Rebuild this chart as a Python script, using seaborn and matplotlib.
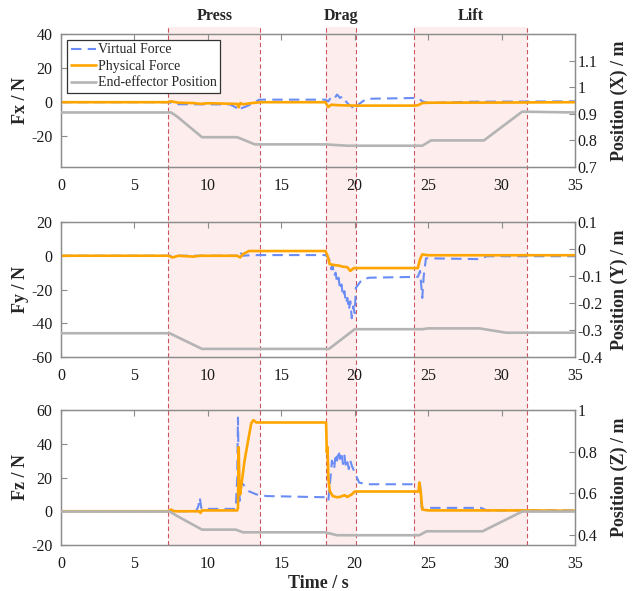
import numpy as np
import pandas as pd
import matplotlib
matplotlib.use("Agg")
import matplotlib.pyplot as plt
import matplotlib.transforms as mtransforms
from matplotlib.patches import Rectangle
from matplotlib.lines import Line2D
import seaborn as sns

# ---------------- data ----------------
phases = ["Press", "Drag", "Lift"]
phase_start = [7.32, 18.02, 24.04]
phase_end = [13.57, 20.1, 31.7]

# Fx panel
t_fx_virtual = [0, 7.3, 7.6, 8.0, 11.5, 11.9, 12.1, 12.3, 12.6, 13.0, 13.5, 18.0, 18.2, 18.4, 18.6, 18.8,
                19.0, 19.2, 19.4, 19.6, 19.8, 20.0, 20.3, 20.8, 24.3, 24.6, 25.0, 28.0, 35]
fx_virtual = [0, 0, -0.5, -1.2, -1.3, -3, -5, -3.5, -2.5, -1, 1.5, 1.5, 0.5, 3, 2, 4.5,
              2.5, 3.5, 0.5, -1.5, -2.5, -4.5, -1, 2, 2.5, 0.5, -0.5, 0.3, 0.5]
t_fx_physical = [0, 7.3, 7.5, 8.0, 9.0, 9.5, 10.0, 11.0, 12.0, 12.1, 12.2, 12.4, 13.0, 13.6, 18.0, 18.2,
                 18.4, 19.0, 20.0, 21.0, 24.0, 24.3, 24.6, 25.0, 30.0, 35]
fx_physical = [0, 0, 0.5, -0.3, -0.5, -1, -0.6, -0.8, -1, -3, -0.5, -1.2, -0.5, 0, 0, -2.8,
               -1.5, -1.8, -2, -2, -2, -1.8, -0.5, -0.3, -0.2, 0]
t_x_pos = [0, 7.5, 7.9, 9.6, 12.0, 13.2, 18.0, 19.5, 24.6, 25.2, 28.8, 31.4, 35]
x_pos = [0.905, 0.905, 0.89, 0.812, 0.812, 0.785, 0.785, 0.78, 0.78, 0.80, 0.80, 0.908, 0.905]

# Fy panel
t_fy_virtual = [0, 12.0, 12.05, 12.2, 12.4, 13.0, 18.0, 18.2, 18.3, 18.4, 18.5, 18.6, 18.7, 18.8, 18.9,
                19.0, 19.1, 19.2, 19.3, 19.4, 19.5, 19.6, 19.7, 19.8, 19.9, 20.0, 20.08, 20.5, 21.0,
                24.3, 24.45, 24.6, 24.7, 24.85, 28.5, 29.0, 35]
fy_virtual = [0, 0, 2.5, 2.0, 0, 0.4, 0.4, -1, -3, -8, -6, -12, -10, -16, -13,
              -20, -17, -24, -21, -28, -25, -32, -27, -37, -30, -34, -19, -14, -13,
              -12.5, -9, -25, -12, -1.5, -2, -0.3, -0.3]
t_fy_physical = [0, 7.3, 7.6, 8.0, 9.0, 9.5, 12.0, 12.2, 12.4, 12.8, 18.0, 18.15, 18.3, 18.6, 18.9,
                 19.2, 19.5, 19.7, 19.9, 20.0, 24.3, 24.45, 24.6, 25.0, 35]
fy_physical = [0, 0, -1, 0, -0.5, 0, 0, -1, 1, 2.8, 2.8, 0, -5, -5.5, -5.8,
               -6.5, -6.8, -9, -7.5, -7.3, -7.3, -2, 0.8, 0.3, 0.3]
t_y_pos = [0, 7.4, 9.6, 18.25, 20.0, 24.6, 25.0, 28.5, 30.3, 35]
y_pos = [-0.312, -0.312, -0.37, -0.37, -0.297, -0.297, -0.294, -0.294, -0.31, -0.31]

# Fz panel
t_fz_virtual = [0, 9.2, 9.35, 9.45, 9.55, 9.7, 10.0, 11.9, 12.0, 12.05, 12.1, 12.15, 12.2, 12.4, 12.75,
                13.3, 14.0, 18.0, 18.1, 18.2, 18.3, 18.45, 18.6, 18.7, 18.8, 18.9, 19.0, 19.1, 19.2,
                19.3, 19.4, 19.5, 19.6, 19.7, 19.8, 20.0, 20.3, 20.8, 24.3, 24.45, 24.56, 24.8, 28.6,
                29.0, 35]
fz_virtual = [0, 0, 3, 8, 2, 1, 1.4, 1.4, 20, 55.5, 20, 6, 17, 16, 12,
              10, 9, 8.3, 7, 6, 15, 30, 25, 34, 30, 36, 31, 35, 28,
              33, 26, 29, 25, 30, 27, 23, 17, 16, 16, 16, 2, 2, 2,
              0.5, 0.5]
t_fz_physical = [0, 7.3, 7.5, 7.7, 9.4, 9.5, 9.6, 12.0, 12.05, 12.1, 12.15, 12.2, 12.5, 12.95, 13.1,
                 13.3, 18.05, 18.1, 18.15, 18.2, 18.3, 18.5, 18.8, 19.0, 19.3, 19.5, 19.8, 20.0, 24.35,
                 24.4, 24.5, 24.6, 25.0, 31.5, 35]
fz_physical = [0, 0, 1, 0, 0, -1, 0.5, 0.5, 2, 38, 15, 10, 30, 52, 54,
               52.6, 52.6, 35, 38, 20, 12, 9, 8.3, 8.5, 9.5, 8.5, 10, 11.7, 11.7,
               17, 11, 1, 0.5, 0.5, 0.3]
t_z_pos = [0, 7.4, 7.9, 9.6, 11.9, 12.4, 18.0, 18.8, 24.4, 24.9, 28.7, 31.4, 35]
z_pos = [0.511, 0.511, 0.49, 0.424, 0.424, 0.411, 0.411, 0.397, 0.397, 0.416, 0.416, 0.511, 0.511]

force_labels = ["Fx / N", "Fy / N", "Fz / N"]
pos_labels = ["Position (X) / m", "Position (Y) / m", "Position (Z) / m"]
force_ylims = [(-38, 40), (-60, 20), (-20, 60)]
force_ticks = [[-20, 0, 20, 40], [-60, -40, -20, 0, 20], [-20, 0, 20, 40, 60]]
pos_ylims = [(0.7, 1.2), (-0.4, 0.1), (0.35, 1.0)]
pos_ticks = [[0.7, 0.8, 0.9, 1.0, 1.1], [-0.4, -0.3, -0.2, -0.1, 0, 0.1], [0.4, 0.6, 0.8, 1.0]]
x_ticks = [0, 5, 10, 15, 20, 25, 30, 35]
legend_labels = ["Virtual Force", "Physical Force", "End-effector Position"]

# ---------------- style ----------------
sns.set_theme(style="white")
plt.rcParams["font.family"] = ["Liberation Serif", "DejaVu Serif"]
plt.rcParams["axes.unicode_minus"] = False

BLUE = "#6A8DF5"
ORANGE = "#FFA500"
GRAY = "#B4B4B4"
SPINE = "#8C8C8C"
SHADE = "#FDEDED"
RED = "#CC5560"

W, H = 636, 591
fig = plt.figure(figsize=(W / 100, H / 100), dpi=100)

left_px, right_px = 61, 575
panels_px = [(34, 167), (222, 357), (410, 545)]

virt = [(t_fx_virtual, fx_virtual), (t_fy_virtual, fy_virtual), (t_fz_virtual, fz_virtual)]
phys = [(t_fx_physical, fx_physical), (t_fy_physical, fy_physical), (t_fz_physical, fz_physical)]
posd = [(t_x_pos, x_pos), (t_y_pos, y_pos), (t_z_pos, z_pos)]

axes = []
handles = []
for i, (top, bot) in enumerate(panels_px):
    ax = fig.add_axes([left_px / W, 1 - bot / H, (right_px - left_px) / W, (bot - top) / H])
    ax.set_facecolor("none")
    ax2 = ax.twinx()
    ax2.set_facecolor("none")

    tv, v = virt[i]
    tp, p = phys[i]
    tg, g = posd[i]
    sns.lineplot(x=tv, y=v, ax=ax, color=BLUE, linewidth=1.5, linestyle=(0, (5, 3)),
                 label=legend_labels[0], legend=False, zorder=3)
    sns.lineplot(x=tp, y=p, ax=ax, color=ORANGE, linewidth=1.9,
                 label=legend_labels[1], legend=False, zorder=4)
    sns.lineplot(x=tg, y=g, ax=ax2, color=GRAY, linewidth=1.9,
                 label=legend_labels[2], legend=False, zorder=3)

    ax.set_xlim(0, 35)
    ax.set_ylim(*force_ylims[i])
    ax.set_yticks(force_ticks[i])
    ax.set_xticks(x_ticks)
    ax.set_xticklabels([str(x) for x in x_ticks])
    ax.set_yticklabels([f"{v:g}" for v in force_ticks[i]])
    ax2.set_ylim(*pos_ylims[i])
    ax2.set_yticks(pos_ticks[i])
    ax2.set_yticklabels([f"{v:g}" for v in pos_ticks[i]])

    for a in (ax, ax2):
        for s in a.spines.values():
            s.set_color(SPINE)
            s.set_linewidth(0.9)
    ax.tick_params(axis="x", direction="in", length=4, width=0.8, color=SPINE,
                   labelsize=11.5, labelcolor="#1a1a1a", top=True, pad=8)
    ax.tick_params(axis="y", direction="in", length=4, width=0.8, color=SPINE,
                   labelsize=11.5, labelcolor="#1a1a1a", right=False, pad=6)
    ax2.tick_params(axis="y", direction="in", length=4, width=0.8, color=SPINE,
                    labelsize=11.5, labelcolor="#1a1a1a", pad=2)
    ax.set_ylabel(force_labels[i], fontsize=13, fontweight="bold")
    ax.yaxis.set_label_coords(-0.063, 0.5)
    ax2.set_ylabel(pos_labels[i], fontsize=13, fontweight="bold")
    ax2.yaxis.set_label_coords(1.070, 0.5)
    ax.set_xlabel("")
    axes.append((ax, ax2))
    if i == 0:
        handles = ax.get_lines()[:2] + ax2.get_lines()[:1]

axes[2][0].set_xlabel("Time / s", fontsize=13, fontweight="bold")
axes[2][0].xaxis.set_label_coords(0.5, -0.222)

leg = axes[0][0].legend(handles, legend_labels, loc="upper left", bbox_to_anchor=(0.012, 0.955),
                        fontsize=10, frameon=True, fancybox=False, borderpad=0.25,
                        labelspacing=0.25, handlelength=1.8, handletextpad=0.15,
                        borderaxespad=0.0)
leg.get_frame().set_edgecolor("#333333")
leg.get_frame().set_linewidth(0.9)
leg.get_frame().set_facecolor("white")
leg.get_frame().set_alpha(1)
leg.set_zorder(10)

# phase shading across the whole figure
trans = mtransforms.blended_transform_factory(axes[0][0].transData, fig.transFigure)
y_top = 1 - 27 / H
y_bot = 1 - 545 / H
for name, s, e in zip(phases, phase_start, phase_end):
    fig.patches.append(Rectangle((s, y_bot), e - s, y_top - y_bot, transform=trans,
                                 facecolor=SHADE, edgecolor="none", zorder=-2))
    for xv in (s, e):
        fig.lines.append(Line2D([xv, xv], [y_bot, y_top], transform=trans, color=RED,
                                linewidth=0.8, linestyle=(0, (4, 2.5)), zorder=-1))
    fig.text((s + e) / 2, 1 - 16 / H, name, transform=trans, ha="center", va="center",
             fontsize=11.5, fontweight="bold")

fig.savefig("out.png", dpi=100)
